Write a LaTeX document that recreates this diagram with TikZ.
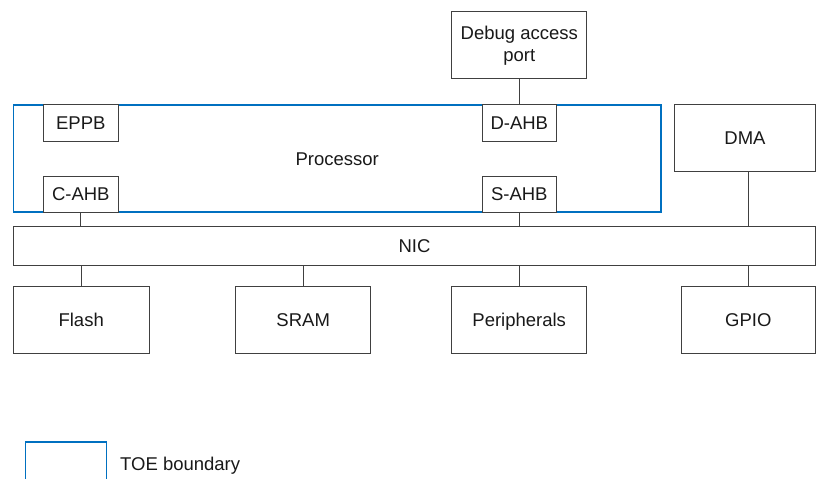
\documentclass[tikz,border=0pt]{standalone}
\usepackage{fontspec}
\setmainfont{Liberation Sans}
\begin{document}
\begin{tikzpicture}[x=1pt,y=-1pt,
  every node/.style={font=\fontsize{18.5}{22}\selectfont, inner sep=0pt, text=black!90},
  blk/.style={draw=black!75, line width=1pt, fill=white, align=center},
  one/.style={text height=13.3pt, text depth=0pt},
  toe/.style={draw={rgb,255:red,0;green,112;blue,192}, line width=1.5pt},
  wire/.style={draw=black!75, line width=1pt}]
\useasboundingbox (0,0) rectangle (820,479);
% TOE boundary (processor)
\node[toe, one, minimum width=647.5pt, minimum height=107pt] (proc) at (337.25,158.5) {Processor};
% Debug access port
\node[blk, minimum width=135pt, minimum height=67.3pt] (dap) at (519.3,45.3) {Debug access\\port};
% ports
\node[blk, one, minimum width=74.5pt, minimum height=36.7pt] (eppb) at (80.8,123.3) {EPPB};
\node[blk, one, minimum width=74.5pt, minimum height=36pt] (cahb) at (80.8,194) {C-AHB};
\node[blk, one, minimum width=74pt, minimum height=36.7pt] (dahb) at (519.3,123.3) {D-AHB};
\node[blk, one, minimum width=74pt, minimum height=36pt] (sahb) at (519.3,194) {S-AHB};
% DMA
\node[blk, one, minimum width=141.4pt, minimum height=67.2pt] (dma) at (745,138.1) {DMA};
% NIC
\node[blk, one, minimum width=802.4pt, minimum height=39.7pt] (nic) at (414.5,245.85) {NIC};
% memories / peripherals
\node[blk, one, minimum width=135.7pt, minimum height=67.3pt] (flash) at (81.2,319.65) {Flash};
\node[blk, one, minimum width=135pt, minimum height=67.3pt] (sram) at (303.2,319.65) {SRAM};
\node[blk, one, minimum width=135pt, minimum height=67.3pt] (peri) at (519.2,319.65) {Peripherals};
\node[blk, one, minimum width=134.7pt, minimum height=67.3pt] (gpio) at (748.35,319.65) {GPIO};
% connectors
\draw[wire] (dap.south) -- (dahb.north);
\draw[wire] (cahb.south) -- (cahb.south |- nic.north);
\draw[wire] (sahb.south) -- (sahb.south |- nic.north);
\draw[wire] (gpio.north |- dma.south) -- (gpio.north |- nic.north);
\draw[wire] (flash.north |- nic.south) -- (flash.north);
\draw[wire] (sram.north |- nic.south) -- (sram.north);
\draw[wire] (peri.north |- nic.south) -- (peri.north);
\draw[wire] (gpio.north |- nic.south) -- (gpio.north);
% legend
\coordinate (lgA) at (25.7,480);
\coordinate (lgB) at (106.7,480);
\draw[toe] (lgA) -- (25.7,442) -- (106.7,442) -- (lgB);
\node[one, anchor=west] (lgtext) at (120,464) {TOE boundary};
\end{tikzpicture}
\end{document}
